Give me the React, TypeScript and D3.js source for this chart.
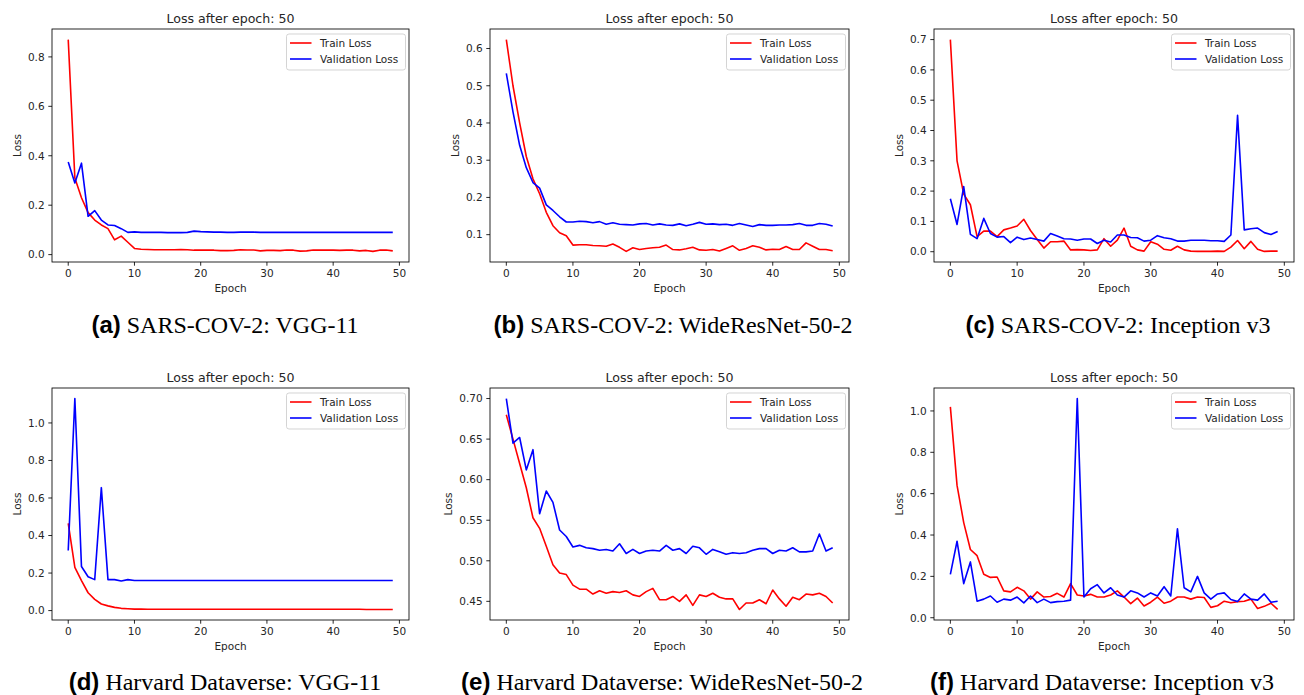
import React from 'react';
import * as d3 from 'd3';

// epochs 0..49
const epochs = d3.range(50);
const xTicks = [0, 10, 20, 30, 40, 50];

// (a) SARS-COV-2: VGG-11
const trainA = [0.87, 0.31, 0.23, 0.17, 0.14, 0.12, 0.105, 0.06, 0.075, 0.05,
  0.025, 0.022, 0.021, 0.02, 0.02, 0.02, 0.02, 0.021, 0.02, 0.018,
  0.018, 0.018, 0.018, 0.016, 0.016, 0.017, 0.02, 0.019, 0.019, 0.015,
  0.017, 0.017, 0.016, 0.019, 0.018, 0.014, 0.015, 0.019, 0.018, 0.018,
  0.018, 0.017, 0.018, 0.018, 0.015, 0.017, 0.013, 0.018, 0.019, 0.015];
const valA = [0.375, 0.29, 0.37, 0.155, 0.178, 0.14, 0.12, 0.118, 0.105, 0.09,
  0.092, 0.09, 0.09, 0.09, 0.09, 0.089, 0.089, 0.089, 0.09, 0.095,
  0.093, 0.092, 0.091, 0.091, 0.09, 0.09, 0.091, 0.091, 0.091, 0.09,
  0.09, 0.09, 0.09, 0.09, 0.09, 0.09, 0.09, 0.09, 0.09, 0.09,
  0.09, 0.09, 0.09, 0.09, 0.09, 0.09, 0.09, 0.09, 0.09, 0.09];
const yTicksA = [0, 0.2, 0.4, 0.6, 0.8];

// (b) SARS-COV-2: WideResNet-50-2
const trainB = [0.624, 0.5, 0.4, 0.31, 0.25, 0.21, 0.16, 0.124, 0.105, 0.097,
  0.072, 0.073, 0.073, 0.071, 0.07, 0.069, 0.075, 0.066, 0.055, 0.065,
  0.06, 0.063, 0.065, 0.066, 0.072, 0.06, 0.059, 0.062, 0.066, 0.059,
  0.058, 0.06, 0.056, 0.063, 0.07, 0.058, 0.063, 0.07, 0.066, 0.059,
  0.061, 0.06, 0.068, 0.06, 0.06, 0.078, 0.069, 0.06, 0.06, 0.057];
const valB = [0.533, 0.43, 0.34, 0.28, 0.24, 0.225, 0.18, 0.165, 0.148, 0.134,
  0.134, 0.136, 0.135, 0.132, 0.135, 0.128, 0.132, 0.128, 0.127, 0.126,
  0.129, 0.13, 0.126, 0.129, 0.126, 0.125, 0.129, 0.124, 0.128, 0.133,
  0.128, 0.129, 0.127, 0.128, 0.125, 0.13, 0.126, 0.122, 0.127, 0.125,
  0.125, 0.126, 0.126, 0.127, 0.13, 0.125, 0.125, 0.13, 0.128, 0.123];
const yTicksB = [0.1, 0.2, 0.3, 0.4, 0.5, 0.6];

// (c) SARS-COV-2: Inception v3
const trainC = [0.70, 0.30, 0.19, 0.155, 0.05, 0.068, 0.068, 0.05, 0.072, 0.078,
  0.085, 0.107, 0.07, 0.04, 0.012, 0.033, 0.033, 0.035, 0.006, 0.007,
  0.006, 0.004, 0.006, 0.043, 0.018, 0.038, 0.078, 0.018, 0.006, 0.002,
  0.033, 0.025, 0.008, 0.005, 0.018, 0.006, 0.002, 0.001, 0.001, 0.001,
  0.002, 0.001, 0.015, 0.037, 0.01, 0.034, 0.008, 0.001, 0.002, 0.002];
const valC = [0.175, 0.09, 0.215, 0.057, 0.043, 0.11, 0.06, 0.048, 0.05, 0.03,
  0.048, 0.04, 0.045, 0.04, 0.035, 0.06, 0.052, 0.043, 0.042, 0.038,
  0.042, 0.042, 0.027, 0.038, 0.032, 0.055, 0.055, 0.047, 0.046, 0.035,
  0.038, 0.053, 0.046, 0.043, 0.035, 0.035, 0.038, 0.038, 0.038, 0.036,
  0.036, 0.034, 0.055, 0.45, 0.072, 0.076, 0.078, 0.063, 0.057, 0.067];
const yTicksC = [0, 0.1, 0.2, 0.3, 0.4, 0.5, 0.6, 0.7];

// (d) Harvard Dataverse: VGG-11
const trainD = [0.465, 0.23, 0.16, 0.095, 0.06, 0.035, 0.025, 0.017, 0.012, 0.01,
  0.008, 0.008, 0.007, 0.007, 0.007, 0.007, 0.007, 0.007, 0.007, 0.007,
  0.007, 0.007, 0.007, 0.007, 0.007, 0.007, 0.007, 0.007, 0.007, 0.007,
  0.007, 0.007, 0.007, 0.007, 0.007, 0.007, 0.007, 0.007, 0.007, 0.007,
  0.007, 0.007, 0.007, 0.007, 0.007, 0.006, 0.006, 0.006, 0.006, 0.006];
const valD = [0.32, 1.13, 0.235, 0.18, 0.165, 0.655, 0.165, 0.165, 0.158, 0.165,
  0.16, 0.16, 0.16, 0.16, 0.16, 0.16, 0.16, 0.16, 0.16, 0.16,
  0.16, 0.16, 0.16, 0.16, 0.16, 0.16, 0.16, 0.16, 0.16, 0.16,
  0.16, 0.16, 0.16, 0.16, 0.16, 0.16, 0.16, 0.16, 0.16, 0.16,
  0.16, 0.16, 0.16, 0.16, 0.16, 0.16, 0.16, 0.16, 0.16, 0.16];
const yTicksD = [0, 0.2, 0.4, 0.6, 0.8, 1.0];

// (e) Harvard Dataverse: WideResNet-50-2
const trainE = [0.68, 0.65, 0.62, 0.59, 0.553, 0.54, 0.518, 0.495, 0.485, 0.483,
  0.47, 0.465, 0.465, 0.459, 0.463, 0.46, 0.462, 0.461, 0.463, 0.458,
  0.456, 0.462, 0.466, 0.452, 0.452, 0.456, 0.45, 0.458, 0.445, 0.458,
  0.456, 0.46, 0.455, 0.453, 0.453, 0.44, 0.448, 0.448, 0.452, 0.447,
  0.464, 0.453, 0.444, 0.455, 0.452, 0.459, 0.458, 0.46, 0.456, 0.448];
const valE = [0.70, 0.645, 0.652, 0.612, 0.637, 0.558, 0.586, 0.572, 0.538, 0.53,
  0.517, 0.519, 0.516, 0.515, 0.513, 0.514, 0.512, 0.521, 0.509, 0.514,
  0.509, 0.512, 0.513, 0.512, 0.519, 0.513, 0.515, 0.509, 0.518, 0.516,
  0.508, 0.514, 0.511, 0.508, 0.51, 0.509, 0.51, 0.513, 0.515, 0.515,
  0.509, 0.513, 0.512, 0.516, 0.511, 0.511, 0.512, 0.533, 0.512, 0.516];
const yTicksE = [0.45, 0.5, 0.55, 0.6, 0.65, 0.7];

// (f) Harvard Dataverse: Inception v3
const trainF = [1.02, 0.64, 0.46, 0.33, 0.30, 0.21, 0.195, 0.197, 0.13, 0.125,
  0.147, 0.13, 0.09, 0.125, 0.1, 0.103, 0.118, 0.1, 0.165, 0.11,
  0.105, 0.113, 0.1, 0.1, 0.11, 0.13, 0.1, 0.068, 0.095, 0.057,
  0.075, 0.1, 0.07, 0.08, 0.1, 0.1, 0.09, 0.1, 0.098, 0.05,
  0.058, 0.08, 0.072, 0.078, 0.08, 0.09, 0.045, 0.055, 0.07, 0.04];
const valF = [0.21, 0.37, 0.165, 0.27, 0.08, 0.09, 0.105, 0.075, 0.09, 0.085,
  0.1, 0.072, 0.105, 0.073, 0.09, 0.073, 0.078, 0.08, 0.085, 1.06,
  0.1, 0.14, 0.16, 0.12, 0.145, 0.11, 0.1, 0.13, 0.12, 0.1,
  0.12, 0.105, 0.15, 0.105, 0.43, 0.145, 0.125, 0.2, 0.12, 0.09,
  0.115, 0.12, 0.088, 0.078, 0.115, 0.09, 0.085, 0.115, 0.075, 0.08];
const yTicksF = [0, 0.2, 0.4, 0.6, 0.8, 1.0];

const captionTags = ['(a)', '(b)', '(c)', '(d)', '(e)', '(f)'];
const captionTexts = [
  'SARS-COV-2: VGG-11',
  'SARS-COV-2: WideResNet-50-2',
  'SARS-COV-2: Inception v3',
  'Harvard Dataverse: VGG-11',
  'Harvard Dataverse: WideResNet-50-2',
  'Harvard Dataverse: Inception v3',
];
const titleText = 'Loss after epoch: 50';
const legendLabels = ['Train Loss', 'Validation Loss'];

const W = 1304;
const H = 695;
const FONT = 'DejaVu Sans, sans-serif';
const TXT = '#262626';

// layout of axes boxes
const cols = [[52, 409], [490, 849], [934, 1294]];
const rows = [[29, 262], [388, 620]];
const captionX = [225, 673, 1118, 225, 662, 1102];
const captionY = [332.5, 690];

const panels = [
  { train: trainA, val: valA, ticks: yTicksA, dec: 1 },
  { train: trainB, val: valB, ticks: yTicksB, dec: 1 },
  { train: trainC, val: valC, ticks: yTicksC, dec: 1 },
  { train: trainD, val: valD, ticks: yTicksD, dec: 1 },
  { train: trainE, val: valE, ticks: yTicksE, dec: 2 },
  { train: trainF, val: valF, ticks: yTicksF, dec: 1 },
];

function Panel({ idx }: { idx: number }) {
  const p = panels[idx];
  const [left, right] = cols[idx % 3];
  const [top, bottom] = rows[Math.floor(idx / 3)];

  const x = d3.scaleLinear().domain([-2.45, 51.45]).range([left, right]);
  const all = p.train.concat(p.val);
  const lo = d3.min(all) as number;
  const hi = d3.max(all) as number;
  const pad = (hi - lo) * 0.05;
  const y = d3.scaleLinear().domain([lo - pad, hi + pad]).range([bottom, top]);

  const line = d3.line<number>().x((_, i) => x(epochs[i])).y(d => y(d));
  const fmt = d3.format(`.${p.dec}f`);
  const tickLabelW = fmt(p.ticks[0]).length === 4 ? 23.4 : 16.7;
  const yLabelX = left - 7.4 - tickLabelW - 4.2 - 6.5;

  const legW = 119;
  const legX = right - 3.5 - legW;
  const legY = top + 5;

  return (
    <g>
      <rect x={left} y={top} width={right - left} height={bottom - top} fill="white" />
      <path d={line(p.train) || ''} fill="none" stroke="#ff0000" strokeWidth={1.6} strokeLinejoin="round" />
      <path d={line(p.val) || ''} fill="none" stroke="#0000ff" strokeWidth={1.6} strokeLinejoin="round" />
      <rect x={left} y={top} width={right - left} height={bottom - top} fill="none" stroke="#000" strokeWidth={0.85} />
      {xTicks.map(t => (
        <g key={`x${t}`}>
          <line x1={x(t)} x2={x(t)} y1={bottom} y2={bottom + 3.7} stroke="#000" strokeWidth={0.85} />
          <text x={x(t)} y={bottom + 7.4} dy="0.76em" textAnchor="middle" fontSize={10.5} fontFamily={FONT} fill={TXT}>{t}</text>
        </g>
      ))}
      {p.ticks.map(t => (
        <g key={`y${t}`}>
          <line x1={left - 3.7} x2={left} y1={y(t)} y2={y(t)} stroke="#000" strokeWidth={0.85} />
          <text x={left - 7.4} y={y(t)} dy="0.36em" textAnchor="end" fontSize={10.5} fontFamily={FONT} fill={TXT}>{fmt(t)}</text>
        </g>
      ))}
      <text x={(left + right) / 2} y={top - 6.5} textAnchor="middle" fontSize={12.6} fontFamily={FONT} fill={TXT}>{titleText}</text>
      <text x={(left + right) / 2} y={bottom + 30} textAnchor="middle" fontSize={10.5} fontFamily={FONT} fill={TXT}>Epoch</text>
      <text transform={`translate(${yLabelX},${(top + bottom) / 2}) rotate(-90)`} textAnchor="middle" dy="0.36em" fontSize={10.5} fontFamily={FONT} fill={TXT}>Loss</text>
      <rect x={legX} y={legY} width={legW} height={36} rx={2.5} fill="white" fillOpacity={0.8} stroke="#cccccc" strokeWidth={0.85} />
      {legendLabels.map((lab, i) => (
        <g key={lab}>
          <line x1={legX + 3.5} x2={legX + 25} y1={legY + 9 + i * 16} y2={legY + 9 + i * 16} stroke={i === 0 ? '#ff0000' : '#0000ff'} strokeWidth={1.6} />
          <text x={legX + 33.5} y={legY + 9 + i * 16} dy="0.36em" fontSize={10.5} fontFamily={FONT} fill={TXT}>{lab}</text>
        </g>
      ))}
    </g>
  );
}

export default function App() {
  return (
    <svg width={W} height={H} style={{ position: 'absolute', left: 0, top: 0, background: 'white' }}>
      <rect width={W} height={H} fill="white" />
      {panels.map((_, i) => <Panel key={i} idx={i} />)}
      {captionTags.map((tag, i) => (
        <text key={tag} x={captionX[i]} y={captionY[Math.floor(i / 3)]}
          textAnchor="middle" fontSize={24} fill="#000">
          <tspan fontFamily="Liberation Sans, Arial, sans-serif" fontWeight="bold">{tag}</tspan>
          <tspan fontFamily="Liberation Serif, Times New Roman, serif">{' ' + captionTexts[i]}</tspan>
        </text>
      ))}
    </svg>
  );
}
